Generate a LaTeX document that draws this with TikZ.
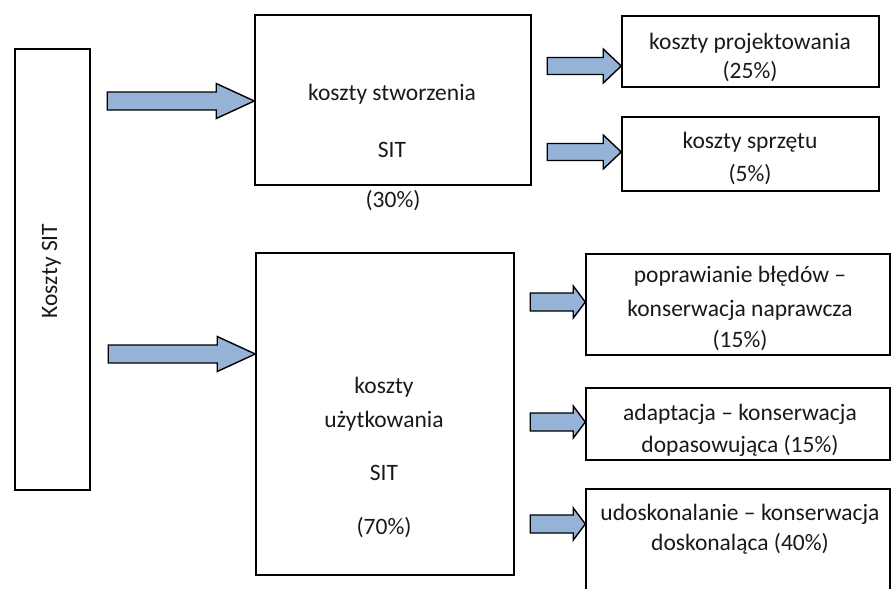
\documentclass[tikz,border=0pt]{standalone}
\usepackage{fontspec}
\setmainfont{Carlito}
\usetikzlibrary{calc}
\definecolor{arrowfill}{HTML}{95B3D7}
\tikzset{
  box/.style={draw=black, line width=1.5pt, rectangle, inner sep=0pt},
  lbl/.style={anchor=base, inner sep=0pt, text=black!90, font=\fontsize{23.5}{28}\selectfont},
  blockarrow/.style={draw=black, line width=1.4pt, fill=arrowfill, line join=miter},
}
% block arrow: tip point, total length, head length, half body height, half head height
\newcommand\blockarrow[5]{%
  \draw[blockarrow, shift={(#1)}] (-#2,-#4) -- (-#3,-#4) -- (-#3,-#5) -- (0,0)
    -- (-#3,#5) -- (-#3,#4) -- (-#2,#4) -- cycle;}
\begin{document}
\begin{tikzpicture}[x=1pt, y=-1pt]
  \useasboundingbox (0,0) rectangle (892,589);
  \clip (0,0) rectangle (892,589);

  % boxes
  \node[box, minimum width=75pt,  minimum height=441pt] (root) at (52.5,269.5) {};
  \node[box, minimum width=276pt, minimum height=170pt] (build) at (393,100) {};
  \node[box, minimum width=258pt, minimum height=322pt] (use) at (385,414) {};
  \node[box, minimum width=257pt, minimum height=71pt]  (design) at (750.5,51.5) {};
  \node[box, minimum width=257pt, minimum height=74pt]  (hw) at (750.5,154) {};
  \node[box, minimum width=304pt, minimum height=101pt] (fix) at (738,304.5) {};
  \node[box, minimum width=304pt, minimum height=72pt]  (adapt) at (738,424) {};
  \node[box, minimum width=304pt, minimum height=131pt] (perf) at (738,554.5) {};

  % texts
  \node[lbl, rotate=90] (rootlbl) at (57,271) {Koszty SIT};
  \node[lbl] (b1) at (392,100) {koszty stworzenia};
  \node[lbl] (b2) at (392,157) {SIT};
  \node[lbl] (b3) at (393,207) {(30\%)};
  \node[lbl] (u1) at (384,393) {koszty};
  \node[lbl] (u2) at (384,427) {użytkowania};
  \node[lbl] (u3) at (384,480) {SIT};
  \node[lbl] (u4) at (384,534) {(70\%)};
  \node[lbl] (d1) at (750,49) {koszty projektowania};
  \node[lbl] (d2) at (750,78) {(25\%)};
  \node[lbl] (h1) at (750,148) {koszty sprzętu};
  \node[lbl] (h2) at (750,181) {(5\%)};
  \node[lbl] (f1) at (740,282) {poprawianie błędów –};
  \node[lbl] (f2) at (740,316) {konserwacja naprawcza};
  \node[lbl] (f3) at (740,347) {(15\%)};
  \node[lbl] (a1) at (740,420) {adaptacja – konserwacja};
  \node[lbl] (a2) at (740,452) {dopasowująca (15\%)};
  \node[lbl] (p1) at (740,520) {udoskonalanie – konserwacja};
  \node[lbl] (p2) at (740,550) {doskonaląca (40\%)};

  % arrow tips on the boxes' left edges
  \coordinate (ty1) at (0,101);
  \coordinate (ty2) at (0,354);
  \coordinate (ty3) at (0,66);
  \coordinate (ty4) at (0,152);
  \coordinate (ty5) at (0,302);
  \coordinate (ty6) at (0,422);
  \coordinate (ty7) at (0,524);
  \coordinate (tip1) at (build.west |- ty1);
  \coordinate (tip2) at (use.west |- ty2);
  \coordinate (tip3) at (design.west |- ty3);
  \coordinate (tip4) at (hw.west |- ty4);
  \coordinate (tip5) at (fix.west |- ty5);
  \coordinate (tip6) at (adapt.west |- ty6);
  \coordinate (tip7) at (perf.west |- ty7);

  \blockarrow{tip1}{147}{38}{9}{17.5}
  \blockarrow{tip2}{147}{38}{9}{17.5}
  \blockarrow{tip3}{74}{18}{8.5}{17}
  \blockarrow{tip4}{74}{18}{8.5}{17}
  \blockarrow{tip5}{55}{12}{9}{16}
  \blockarrow{tip6}{55}{12}{9}{16}
  \blockarrow{tip7}{55}{12}{9}{16}
\end{tikzpicture}
\end{document}
